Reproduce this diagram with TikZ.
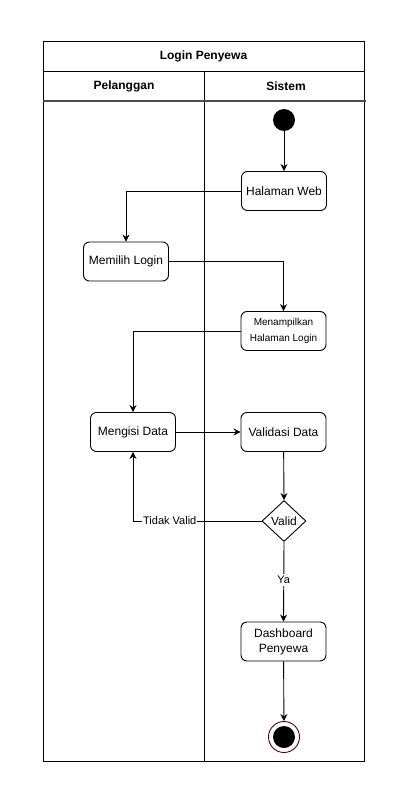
\documentclass[tikz,border=0pt]{standalone}
\usepackage{fontspec}
\setmainfont{Liberation Sans}
\usetikzlibrary{arrows.meta,shapes.geometric}
\begin{document}
\begin{tikzpicture}[x=1pt,y=-1pt,
  act/.style={draw=black,line width=0.9pt,rounded corners=6pt,fill=white,minimum width=85pt,minimum height=39pt,align=center,font=\fontsize{12}{15}\selectfont,inner sep=1pt},
  conn/.style={draw=black,line width=0.9pt,-{Stealth[length=7pt,width=7pt]}},
  frame/.style={draw=black,line width=0.9pt},
  hdr/.style={font=\bfseries\fontsize{12}{14}\selectfont}]
\useasboundingbox (0,0) rectangle (402,792);
\fill[white] (0,0) rectangle (402,792);
% frame
\draw[frame] (43,41) rectangle (364,761);
\draw[frame] (43,71) -- (364,71);
\draw[frame] (204,71) -- (204,761);
\draw[draw=black!70,line width=1.2pt] (43,101) -- (366,101);
\node[hdr] (title) at (203.5,56) {Login Penyewa};
\node[hdr] (lane1) at (124,86) {Pelanggan};
\node[hdr] (lane2) at (286,86) {Sistem};
% nodes
\node[circle,fill=black,minimum size=22pt,inner sep=0pt] (start) at (284,120) {};
\node[act] (web) at (284,191) {Halaman Web};
\node[act] (login) at (126,261.5) {Memilih Login};
\node[act,font=\fontsize{10}{16}\selectfont] (tampil) at (283.5,331) {Menampilkan\\Halaman Login};
\node[act] (isi) at (133,432) {Mengisi Data};
\node[act] (valdata) at (283.5,432) {Validasi Data};
\node[diamond,draw=black,line width=0.9pt,fill=white,minimum width=44pt,minimum height=41pt,inner sep=0pt,font=\fontsize{12}{14}\selectfont] (valid) at (284,521) {Valid};
\node[act] (dash) at (283.5,641.5) {Dashboard\\Penyewa};
\node[circle,draw={rgb,255:red,90;green,0;blue,0},line width=0.9pt,fill=white,minimum size=31pt,inner sep=0pt] (end) at (284,737) {};
\node[circle,fill=black,minimum size=22pt,inner sep=0pt] (endin) at (284,737) {};
% connectors
\draw[conn] (start) -- (web);
\draw[conn] (web.west) -| (login.north);
\draw[conn] (login.east) -| (tampil.north);
\draw[conn] (tampil.west) -| (isi.north);
\draw[conn] (isi) -- (valdata);
\draw[conn] (valdata) -- (valid.north);
\draw[conn] (valid.west) -| node[pos=0.357,fill=white,inner sep=1pt,font=\fontsize{11}{13}\selectfont] {Tidak Valid} (isi.south);
\draw[conn] (valid.south) -- node[pos=0.48,fill=white,inner sep=2pt,font=\fontsize{11}{13}\selectfont] {Ya} (dash.north);
\draw[conn] (dash) -- (end);
\end{tikzpicture}
\end{document}
